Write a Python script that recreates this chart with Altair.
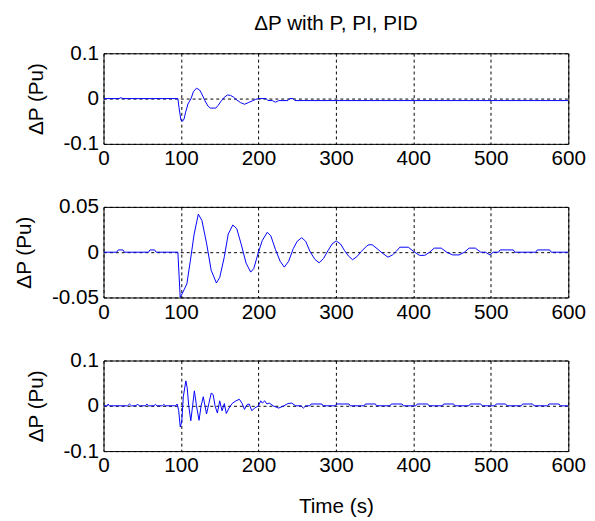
import altair as alt
import pandas as pd

# ---------------- data ----------------
T_P = [0, 20, 22.5, 25, 96, 97.5, 100, 102, 104, 106, 109, 113, 116, 120, 124, 127,
       131, 135, 138, 145, 148, 152, 156, 160, 164, 168, 172, 177, 182, 187, 192, 196,
       200, 210, 212, 218, 222, 226, 238, 240, 245, 247, 600]
V_P = [0, 0, 0.002, 0, 0, -0.02, -0.048, -0.05, -0.045, -0.03, -0.012, 0, 0.015, 0.023,
       0.019, 0.01, -0.005, -0.017, -0.021, -0.021, -0.015, -0.005, 0.003, 0.008, 0.007,
       0.003, -0.003, -0.009, -0.0125, -0.009, -0.005, -0.002, 0, 0, -0.004, -0.0045,
       -0.008, -0.0045, -0.0044, 0, 0, -0.0044, -0.0044]

T_PI = [0, 17, 19, 25, 27, 58, 60, 66, 68, 96, 99, 102, 107.6, 112, 117, 122.4, 127, 133,
        139, 145.7, 150, 156, 161, 166.9, 172, 178, 184, 190, 194, 200, 205, 211.4, 216,
        222, 228, 233.4, 239, 245, 250, 255.8, 261, 267, 273, 278.3, 284, 290, 295, 300.3,
        306, 311, 316, 321.5, 327, 333, 340, 342.7, 346.9, 353, 360, 367.3, 373, 378,
        382.5, 393.5, 400, 408, 414.7, 421, 427, 436, 443, 450.7, 459, 466, 472, 480, 487,
        493, 499, 503, 510, 512, 529, 531, 558, 560, 576, 578, 600]
V_PI = [0, 0, 0.0025, 0.0025, 0, 0, 0.0025, 0.0025, 0, 0, -0.05, -0.045, -0.035, -0.01,
        0.02, 0.042, 0.035, 0.01, -0.02, -0.034, -0.028, -0.005, 0.02, 0.030, 0.026, 0.008,
        -0.012, -0.022, -0.018, 0, 0.013, 0.022, 0.018, 0.003, -0.01, -0.0165, -0.01, 0.004,
        0.012, 0.016, 0.012, 0.0, -0.008, -0.0117, -0.007, 0.002, 0.009, 0.0125, 0.009,
        0.002, -0.004, -0.0083, -0.005, 0.001, 0.007, 0.0082, 0.0082, 0.004, -0.001,
        -0.0055, -0.003, 0.001, 0.0055, 0.0055, 0.001, -0.0035, -0.0035, 0.0, 0.0045,
        0.0045, 0.0, -0.003, -0.003, 0.0, 0.0045, 0.0045, 0.0, 0.0, -0.003, 0.0, 0, 0.0025,
        0.0025, 0, 0, 0.0025, 0.0025, 0, 0]

T_PID = [0, 5, 6, 7.5, 31, 33.5, 36, 42, 44, 46, 54, 56, 58, 65, 67, 69, 76, 78, 80, 93,
         95, 97, 99.1, 101, 103, 106.3, 108, 110, 112.7, 115, 117.3, 120, 123.3, 126,
         128.8, 131, 133, 136, 139, 141.5, 144, 147, 150, 153, 156, 158.5, 162, 166, 170,
         175.4, 179, 182, 185, 188, 191.5, 195, 200, 203, 205, 208, 211, 214, 219, 226,
         232, 238, 243, 248, 255, 258, 261, 265,
         266.4, 268, 282, 283.3, 299.3, 301, 317, 318.4, 336.4, 338, 351, 352.4,
         369.9, 371.5, 385.5, 386.9, 403.2, 405, 418.5, 420.2, 437.6, 439, 452, 453.6,
         471.8, 473.5, 487, 488.8, 505.1, 507, 519, 520.8, 539.6, 541, 554, 555.7,
         573.4, 575, 588, 589.6, 600]
V_PID = [0, 0, 0.004, 0, 0, 0.004, 0, 0, 0.004, 0, 0, 0.004, 0, 0, 0.003, 0, 0, 0.003, 0,
         0, 0.004, -0.01, -0.047, -0.035, 0.02, 0.055, 0.04, 0.0, -0.033, 0.0, 0.033, 0.0,
         -0.032, 0.0, 0.02, 0.0, -0.018, 0.005, 0.028, 0.025, 0.0, -0.016, 0.011, -0.011,
         0.005, -0.017, -0.005, 0.005, 0.01, 0.0145, 0.005, -0.008, 0.002, 0.004, -0.011,
         -0.005, 0.0, 0.011, 0.006, 0.011, 0.004, 0.006, 0.0, -0.005, -0.001, 0.005, 0.006,
         0.0, 0.0, -0.005, 0.0, 0.0,
         0, 0.004, 0.004, 0, 0, 0.004, 0.004, 0, 0, 0.004, 0.004, 0,
         0, 0.004, 0.004, 0, 0, 0.004, 0.004, 0, 0, 0.004, 0.004, 0,
         0, 0.004, 0.004, 0, 0, 0.004, 0.004, 0, 0, 0.004, 0.004, 0,
         0, 0.004, 0.004, 0, 0]

X_TICKS = [0, 100, 200, 300, 400, 500, 600]
Y_TICKS_P = [-0.1, 0, 0.1]
Y_TICKS_PI = [-0.05, 0, 0.05]
Y_TICKS_PID = [-0.1, 0, 0.1]

TITLE = "ΔP with P, PI, PID"
Y_TITLE = "ΔP (Pu)"
X_TITLE = "Time (s)"

FONT = "Liberation Sans"
FS = 21
W, H = 472, 92
LINE_COLOR = "#0000ff"

LABEL_EXPR = "replace(format(datum.value, '.2~f'), '\u2212', '-')"


def panel(t, v, yticks, xtitle=None, title=None):
    df = pd.DataFrame({"t": t, "v": v})
    x_axis = alt.Axis(values=X_TICKS, format="d", grid=True, gridColor="black",
                      gridDash=[3, 3], gridOpacity=1, domain=False, ticks=False,
                      labelPadding=4, title=xtitle, titlePadding=20,
                      titleFontWeight="normal", labelFlush=False)
    y_axis = alt.Axis(values=yticks, labelExpr=LABEL_EXPR, grid=True,
                      gridColor="black", gridDash=[3, 3], gridOpacity=1,
                      domain=False, ticks=False, labelPadding=5, title=Y_TITLE,
                      titlePadding=17, titleFontWeight="normal", labelFlush=False)
    ch = alt.Chart(df).mark_line(color=LINE_COLOR, strokeWidth=1, clip=True).encode(
        x=alt.X("t:Q", scale=alt.Scale(domain=[0, 600], nice=False, zero=False), axis=x_axis),
        y=alt.Y("v:Q", scale=alt.Scale(domain=[yticks[0], yticks[-1]], nice=False, zero=False),
                axis=y_axis),
        order="t:Q",
    )
    props = dict(width=W, height=H)
    if title is not None:
        props["title"] = alt.TitleParams(title, fontSize=FS, font=FONT, fontWeight="normal",
                                         color="black", anchor="middle", frame="group",
                                         offset=9)
    return ch.properties(**props)


p1 = panel(T_P, V_P, Y_TICKS_P, title=TITLE)
p2 = panel(T_PI, V_PI, Y_TICKS_PI)
p3 = panel(T_PID, V_PID, Y_TICKS_PID, xtitle=X_TITLE)

chart = alt.vconcat(p1, p2, p3, spacing=64, bounds="flush").properties(
    padding={"left": 5, "top": 0, "right": 0, "bottom": 0}
).configure_view(stroke="black", strokeWidth=1).configure_axis(
    labelFont=FONT, titleFont=FONT, labelFontSize=FS, titleFontSize=FS,
    labelColor="black", titleColor="black", titleFontWeight="normal"
).configure_concat(spacing=64)

chart.save("out.html", embed_options={"renderer": "svg", "actions": False})
